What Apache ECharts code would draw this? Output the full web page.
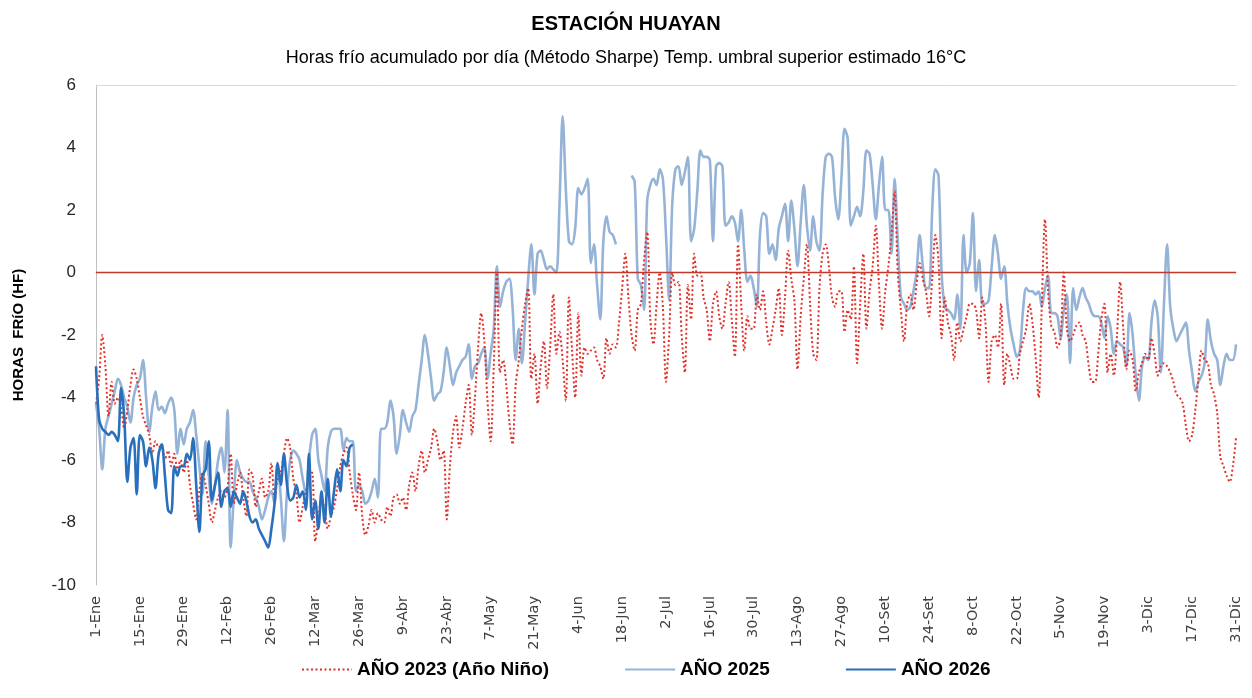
<!DOCTYPE html>
<html>
<head>
<meta charset="utf-8">
<script src="https://cdn.jsdelivr.net/npm/echarts@6/dist/echarts.min.js"></script>
<style>
html,body{margin:0;padding:0;background:#fff;}
#chart{width:1252px;height:698px;}
</style>
</head>
<body>
<div id="chart"></div>
<script>
// ---- Data ----
const monthNames = ['Ene','Feb','Mar','Abr','May','Jun','Jul','Ago','Set','Oct','Nov','Dic'];
const monthDays = [31,28,31,30,31,30,31,31,30,31,30,31];
const categories = [];
monthNames.forEach((m, i) => { for (let d = 1; d <= monthDays[i]; d++) categories.push(d + '-' + m); });

const seriesNames = ['AÑO 2023 (Año Niño)', 'AÑO 2025', 'AÑO 2026'];

const hf2023 = [
-4.2,-3.4,-2.0,-3.0,-4.6,-3.5,-4.2,
-4.0,-4.3,-5.0,-4.4,-3.6,-3.1,-3.4,
-4.0,-4.6,-4.9,-5.2,-5.8,-5.4,-5.6,
-5.5,-6.0,-5.7,-6.2,-5.8,-6.3,-6.0,
-6.4,-6.0,-6.8,-7.4,-7.9,-7.0,-6.4,
-6.8,-7.4,-8.0,-7.6,-7.2,-7.0,-7.2,
-6.9,-5.8,-7.4,-6.8,-6.4,-7.2,-7.8,
-6.3,-6.5,-7.5,-7.0,-6.6,-7.2,-7.0,
-6.1,-7.2,-6.6,-6.4,-5.8,-5.3,-5.6,
-6.6,-7.1,-8.0,-7.5,-7.0,-6.6,-6.4,
-8.6,-7.9,-7.2,-7.6,-8.2,-7.8,-7.5,
-6.9,-6.2,-5.8,-5.6,-6.4,-7.1,-7.6,
-6.4,-7.8,-8.4,-8.1,-7.6,-8.0,-7.7,
-7.9,-8.0,-7.5,-7.8,-7.2,-7.1,-7.4,
-7.2,-7.6,-6.8,-6.4,-7.0,-6.2,-5.7,
-6.4,-6.0,-5.6,-5.0,-5.4,-6.0,-5.7,
-7.9,-6.2,-5.1,-4.6,-5.6,-5.0,-4.2,
-3.6,-5.2,-4.0,-2.4,-1.3,-2.2,-4.1,
-5.4,-3.0,0.0,-3.2,-2.8,-3.6,-4.8,
-5.5,-3.6,-2.8,-1.8,-1.0,-0.5,-3.4,
-2.6,-4.2,-3.0,-2.2,-3.7,-2.4,-0.7,
-2.6,-1.9,-2.8,-4.1,-0.8,-2.5,-4.0,
-1.3,-3.3,-2.4,-2.6,-2.5,-2.4,-2.8,
-3.0,-3.4,-2.1,-2.6,-2.3,-2.4,-1.6,
-0.5,0.6,-0.8,-2.0,-2.5,-1.2,-1.0,
0.4,1.3,-1.5,-2.3,-1.0,0.0,-1.1,
-3.5,-2.0,0.0,-0.4,-0.3,-2.0,-3.2,
-0.4,-1.5,0.6,-0.1,0.0,-0.8,-1.2,
-2.2,-1.0,-0.6,-1.4,-1.8,-1.0,-0.3,
-1.5,-2.7,0.9,-1.0,-2.5,-1.4,-1.8,
-1.8,-0.7,-1.2,-0.6,-1.6,-2.3,-1.8,
-1.2,-0.5,-2.0,-0.8,0.7,-0.2,-0.9,
-3.1,-1.4,-0.2,0.9,-1.0,-2.6,-2.8,
-0.5,0.6,0.9,0.2,-0.8,-1.1,-0.6,
-0.6,-1.9,-1.2,-1.5,0.2,-2.9,-1.0,
0.6,-1.8,-0.6,0.2,1.5,-0.4,-1.8,
-0.6,0.2,1.2,2.6,0.0,-1.2,-2.2,
-1.0,-0.7,-1.2,-0.4,0.3,-0.2,-0.6,
-1.4,-0.2,1.2,0.4,-2.1,-0.8,-1.6,
-2.0,-2.8,-1.6,-2.2,-1.8,-1.4,-1.0,
-1.0,-1.2,-2.1,-0.8,-1.6,-3.5,-2.2,
-2.0,-2.4,-1.0,-3.6,-2.6,-3.0,-3.4,
-3.4,-2.6,-2.2,-1.8,-1.0,-1.6,-2.7,
-4.0,-1.0,1.7,-0.6,-1.7,-1.9,-2.4,
-2.1,0.0,-1.8,-2.2,-2.0,-1.7,-1.6,
-2.0,-2.2,-3.0,-3.5,-3.5,-2.6,-1.5,
-1.0,-3.2,-2.6,-3.3,-2.0,-0.3,-1.8,
-3.1,-2.5,-2.8,-3.8,-3.2,-2.9,-2.6,
-2.8,-2.1,-2.6,-3.3,-3.0,-2.9,-3.0,
-3.2,-3.5,-3.9,-4.0,-4.2,-4.9,-5.4,
-5.2,-4.4,-3.4,-2.5,-2.8,-2.9,-3.6,
-3.9,-4.5,-5.9,-6.2,-6.5,-6.7,-6.2,
-5.3
];

const hf2025 = [
-4.2,-5.0,-6.3,-5.0,-4.6,-4.2,-3.8,
-3.4,-3.6,-4.0,-4.3,-4.8,-4.0,-3.6,
-3.4,-2.8,-4.0,-5.1,-4.3,-3.8,-4.4,
-4.3,-4.5,-4.2,-4.0,-4.4,-5.8,-5.0,
-5.5,-5.0,-4.8,-4.4,-5.2,-6.2,-7.1,
-5.4,-6.5,-7.4,-6.8,-6.0,-5.6,-6.4,
-4.4,-8.8,-7.2,-6.0,-6.4,-6.6,-6.7,
-6.7,-7.0,-7.2,-7.5,-7.9,-7.6,-7.2,
-7.0,-7.4,-6.2,-7.2,-8.6,-7.0,-6.0,
-5.7,-5.8,-6.0,-6.6,-7.1,-6.0,-5.2,
-5.0,-6.0,-6.5,-7.0,-5.6,-5.1,-5.0,
-5.0,-5.0,-5.7,-5.3,-5.4,-5.4,-7.0,
-6.8,-7.0,-7.4,-7.3,-7.0,-6.6,-7.2,
-5.0,-5.0,-4.8,-4.1,-4.6,-5.8,-5.2,
-4.4,-4.8,-5.1,-4.6,-4.4,-3.6,-2.8,
-2.0,-2.6,-3.4,-4.1,-3.9,-3.8,-3.2,
-2.4,-3.0,-3.6,-3.2,-3.0,-2.8,-2.7,
-2.3,-3.4,-3.0,-2.9,-2.6,-2.4,-3.4,
-2.6,-1.8,0.2,-1.1,-0.6,-0.3,-0.2,
-1.1,-2.8,-1.8,-2.9,-1.6,-0.2,0.9,
-0.7,0.6,0.7,0.4,0.1,0.2,0.1,
0.0,2.2,5.0,2.7,1.0,0.9,1.4,
2.7,2.5,2.7,3.0,0.3,0.9,-0.4,
-1.5,1.0,1.8,1.3,1.2,0.9,null,
null,null,null,3.1,2.9,-0.2,-0.4,
-1.2,2.3,2.8,3.0,2.8,3.3,3.0,
1.2,-0.9,2.2,3.3,3.4,2.8,3.2,
3.7,1.0,1.4,2.6,3.9,3.7,3.7,
3.6,1.0,3.4,3.5,3.4,1.5,1.6,
1.8,1.6,1.0,2.0,0.7,-0.3,-0.1,
-0.5,-1.1,1.2,1.9,1.8,0.6,0.9,
0.4,1.4,1.8,2.2,1.0,2.3,1.4,
0.2,1.6,2.8,1.5,0.7,1.8,1.0,
0.7,2.5,3.7,3.8,3.7,2.4,1.7,
3.0,4.6,4.3,1.5,1.8,2.1,1.8,
2.6,3.9,3.8,2.8,1.7,2.8,3.7,
2.0,2.0,0.6,3.0,1.0,-0.8,-1.0,
-1.2,-1.1,-0.6,0.0,1.2,0.2,-0.5,
-0.5,2.0,3.3,3.1,0.0,-1.1,-1.2,
-1.3,-1.5,-0.7,-1.8,1.2,0.0,0.3,
1.9,-0.6,0.4,-1.0,-1.0,-0.9,0.2,
1.2,0.6,-0.2,0.2,-1.0,-1.8,-2.3,
-2.7,-2.5,-1.2,-0.5,-0.6,-0.6,-0.7,
-0.6,-1.1,-0.5,-0.1,-1.3,-1.3,-1.4,
-2.1,-1.2,-0.7,-2.9,-0.5,-1.2,-0.8,
-0.5,-0.8,-1.0,-1.3,-1.4,-1.4,-1.6,
-2.1,-1.4,-1.8,-2.6,-2.2,-2.3,-2.4,
-3.0,-1.3,-2.0,-3.3,-4.1,-3.0,-2.7,
-2.8,-1.6,-0.9,-1.4,-3.2,-1.0,0.9,
-1.1,-1.8,-2.2,-2.0,-1.8,-1.6,-2.5,
-3.2,-3.8,-3.5,-3.3,-2.9,-1.5,-2.2,
-2.6,-2.8,-3.6,-3.0,-2.6,-2.8,-2.8,
-2.3
];

const hf2026 = [
-3.0,-4.7,-5.0,-5.1,-5.2,-5.1,-5.2,
-5.4,-3.7,-4.6,-6.7,-5.6,-5.3,-7.1,
-5.2,-5.4,-6.2,-5.6,-6.0,-6.9,-5.8,
-5.5,-6.5,-7.6,-7.7,-6.2,-6.5,-6.2,
-6.2,-5.8,-6.0,-5.3,-6.8,-8.3,-6.5,
-6.3,-5.4,-7.3,-6.8,-6.4,-7.5,-7.0,
-6.9,-7.5,-7.0,-7.2,-7.4,-7.0,-7.3,
-7.8,-8.0,-7.9,-8.2,-8.4,-8.6,-8.8,
-8.2,-7.4,-6.1,-6.8,-5.8,-6.8,-7.3,
-7.2,-6.8,-7.2,-7.0,-7.6,-5.8,-7.9,
-7.3,-8.2,-7.0,-8.0,-6.6,-7.8,-7.0,
-6.3,-7.0,-6.0,-6.2,-5.6,-5.5
];

const yMin = -10, yMax = 6, yStep = 2;

// ---- Chart ----
const chart = echarts.init(document.getElementById('chart'));
const font = 'Liberation Sans';
chart.setOption({
  animation: false,
  backgroundColor: '#ffffff',
  title: {
    text: 'ESTACIÓN HUAYAN',
    subtext: 'Horas frío acumulado por día (Método Sharpe) Temp. umbral superior estimado 16°C',
    left: 'center',
    top: 9,
    itemGap: 15,
    textStyle: {fontFamily: font, fontSize: 20, fontWeight: 'bold', color: '#000'},
    subtextStyle: {fontFamily: font, fontSize: 18, color: '#000'}
  },
  legend: {
    bottom: 14,
    left: 296,
    itemWidth: 50,
    itemHeight: 10,
    itemGap: 75,
    itemStyle: {opacity: 0},
    textStyle: {fontFamily: font, fontSize: 19, fontWeight: 'bold', color: '#000'},
    data: seriesNames
  },
  grid: {left: 96, right: 16, top: 85, bottom: 113, containLabel: false},
  xAxis: [{
    type: 'category',
    data: categories,
    boundaryGap: false,
    axisLine: {show: true, lineStyle: {color: '#bfbfbf', width: 1}},
    axisTick: {show: false},
    splitLine: {show: false},
    axisLabel: {
      interval: 13, rotate: 90, margin: 11,
      fontFamily: 'DejaVu Sans', fontSize: 14.5, color: '#404040'
    }
  }, {
    type: 'category',
    data: categories,
    boundaryGap: false,
    position: 'top',
    axisLine: {show: true, lineStyle: {color: '#d9d9d9', width: 1}},
    axisTick: {show: false},
    axisLabel: {show: false},
    splitLine: {show: false}
  }],
  yAxis: {
    type: 'value',
    min: yMin, max: yMax, interval: yStep,
    axisLine: {show: true, lineStyle: {color: '#bfbfbf', width: 1}},
    axisTick: {show: false},
    splitLine: {show: false},
    axisLabel: {fontFamily: font, fontSize: 17, color: '#262626', margin: 20},
    name: 'HORAS  FRíO (HF)',
    nameLocation: 'middle',
    nameGap: 70,
    nameTextStyle: {fontFamily: font, fontSize: 15, fontWeight: 'bold', color: '#000'}
  },
  series: [{
    name: seriesNames[0],
    type: 'line',
    data: hf2023,
    smooth: 0.3,
    symbol: 'none',
    showSymbol: false,
    lineStyle: {color: '#e0302a', width: 2, type: [2, 2.5]},
    itemStyle: {color: '#e0302a'},
    markLine: {
      silent: true,
      symbol: ['none', 'none'],
      label: {show: false},
      lineStyle: {color: '#c0392b', width: 1.3, type: 'solid'},
      data: [{yAxis: 0}]
    },
    z: 3
  }, {
    name: seriesNames[1],
    type: 'line',
    data: hf2025,
    smooth: 0.3,
    connectNulls: false,
    symbol: 'none',
    showSymbol: false,
    lineStyle: {color: '#95b3d7', width: 2.6},
    itemStyle: {color: '#95b3d7'},
    z: 2
  }, {
    name: seriesNames[2],
    type: 'line',
    data: hf2026,
    smooth: 0.3,
    symbol: 'none',
    showSymbol: false,
    lineStyle: {color: '#2a6fbb', width: 2.6},
    itemStyle: {color: '#2a6fbb'},
    z: 4
  }]
});
</script>
</body>
</html>
